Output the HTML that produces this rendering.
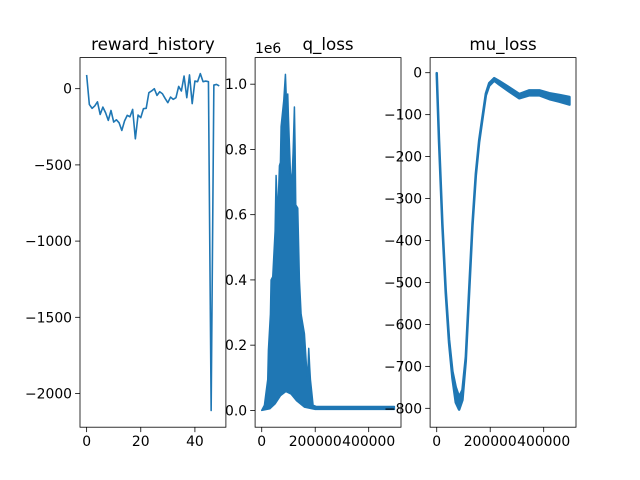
<!DOCTYPE html>
<html><head><meta charset="utf-8"><style>
body{margin:0;background:#fff}
svg{display:block;font-family:"DejaVu Sans","Liberation Sans",sans-serif}
</style></head><body>
<svg id="fig" width="640" height="480" viewBox="0 0 640 480"></svg>
<script>
// reward_history data
const rewardY = [90,-103,-129,-113,-86,-169,-121,-158,-208,-143,-219,-204,-224,-274,-212,-175,-184,-136,-329,-173,-190,-131,-129,-26,-15,0,-44,-20,-33,-64,-92,-55,-70,-59,15,-15,83,-59,90,-98,50,46,99,46,50,46,-2111,24,28,18];
const rewardYTicks = [0,-500,-1000,-1500,-2000];
const rewardXTicks = [0,20,40];
// q_loss data (values in 1e6 units)
const qUpX = [0,10100,16300,22500,25000,32500,35000,41200,50000,53700,59900,66200,69900,72400,82400,88600,92300,97300,99800,107300,112300,117300,122200,124700,127200,134700,140900,147200,159600,165800,169600,172100,175800,179500,182000,187000,192000,203200,496000];
const qUpY = [0,0.016,0.056,0.095,0.185,0.295,0.40,0.41,0.55,0.72,0.59,0.75,0.76,0.87,0.95,1.03,0.95,0.97,0.90,0.73,0.69,0.79,0.93,0.81,0.63,0.62,0.40,0.295,0.235,0.155,0.105,0.11,0.19,0.13,0.095,0.056,0.016,0.012,0.012];
const qLowX = [0,30000,50000,70000,90000,110000,130000,160000,200000,496000];
const qLowY = [0,0.005,0.02,0.045,0.058,0.05,0.03,0.01,0.003,0.003];
const qYTicks = [0,0.2,0.4,0.6,0.8,1.0];
const qXTicks = [0,200000,400000];
// mu_loss data
const muX = [0,8600,21100,33600,46100,58700,71200,83700,96200,108700,121200,133700,146200,158700,171200,183700,196200,215000,233700,271200,308800,346300,383800,421300,458800,496300];
const muY = [-2,-163,-362,-521,-640,-720,-768,-788,-768,-682,-521,-362,-243,-163,-107,-52,-28,-16,-24,-40,-56,-48,-48,-56,-61,-67];
const muSpread = [1,2,2,3,4,8,18,15,12,4,3,2,2,2,2,2,3,3,4,5,5,6,6,7,8,9];
const muYTicks = [0,-100,-200,-300,-400,-500,-600,-700,-800];
const muXTicks = [0,200000,400000];

const NS="http://www.w3.org/2000/svg";
const svg=document.getElementById('fig');
function el(tag,attrs,parent){const e=document.createElementNS(NS,tag);for(const k in attrs)e.setAttribute(k,attrs[k]);(parent||svg).appendChild(e);return e;}
const C='#1f77b4';
const TOP=57.6,BOT=427.2;
function mkAxis(x0,x1,xmin,xmax,ymin,ymax){
  return {sx:v=>x0+(v-xmin)/(xmax-xmin)*(x1-x0), sy:v=>BOT-(v-ymin)/(ymax-ymin)*(BOT-TOP), x0:x0,x1:x1};
}
function fmt(v){return (v<0?'\u2212':'')+Math.abs(v);}
function drawFrame(ax,name,title,xt,yt,ylab){
  const g=el('g',{});
  
  
  const t=el('text',{x:(ax.x0+ax.x1)/2,y:50,'text-anchor':'middle','font-size':'16.7'},g);
  t.textContent=title;
  
  
  xt.forEach(v=>{const x=ax.sx(v);
    el('line',{x1:x,x2:x,y1:BOT,y2:BOT+4.9,stroke:'#000','stroke-width':0.8},g);
    const l=el('text',{x:x,y:BOT+19,'text-anchor':'middle','font-size':'13.9'},g);l.textContent=fmt(v);
    
    });
  yt.forEach(v=>{const y=ax.sy(v);
    el('line',{x1:ax.x0,x2:ax.x0-4.9,y1:y,y2:y,stroke:'#000','stroke-width':0.8},g);
    const l=el('text',{x:ax.x0-8,y:y+5,'text-anchor':'end','font-size':'13.9'},g);l.textContent=ylab(v);
    
    });
  return g;
}
function box(ax){el('rect',{x:ax.x0,y:TOP,width:ax.x1-ax.x0,height:BOT-TOP,fill:'none',stroke:'#000','stroke-width':0.8});}

// Plot 1
const a1=mkAxis(80,225.9,-2.45,51.45,-2221,204);
drawFrame(a1,'reward-history-axes','reward_history',rewardXTicks,rewardYTicks,fmt);
const p1=el('polyline',{points:rewardY.map((v,i)=>a1.sx(i)+','+a1.sy(v)).join(' '),fill:'none',stroke:C,'stroke-width':1.6,'stroke-linejoin':'round'});


box(a1);

// Plot 2
const a2=mkAxis(255.1,401,-24800,520800,-0.0515,1.0815);
drawFrame(a2,'q-loss-axes','q_loss',qXTicks,qYTicks,v=>v.toFixed(1));
const off=el('text',{x:255,y:53,'font-size':'13.9'});off.textContent='1e6';


const qpts=qUpX.map((x,i)=>a2.sx(x)+','+a2.sy(qUpY[i])).concat(qLowX.map((x,i)=>a2.sx(x)+','+a2.sy(qLowY[i])).reverse());
const p2=el('polygon',{points:qpts.join(' '),fill:C,stroke:C,'stroke-width':1.5,'stroke-linejoin':'round'});


box(a2);

// Plot 3
const a3=mkAxis(430.1,576,-24800,520800,-845,36);
drawFrame(a3,'mu-loss-axes','mu_loss',muXTicks,muYTicks,fmt);
const mpts=muX.map((x,i)=>a3.sx(x)+','+a3.sy(muY[i]+muSpread[i])).concat(muX.map((x,i)=>a3.sx(x)+','+a3.sy(muY[i]-muSpread[i])).reverse());
const p3=el('polygon',{points:mpts.join(' '),fill:C,stroke:C,'stroke-width':2.5,'stroke-linejoin':'round'});


box(a3);
</script>
</body></html>
